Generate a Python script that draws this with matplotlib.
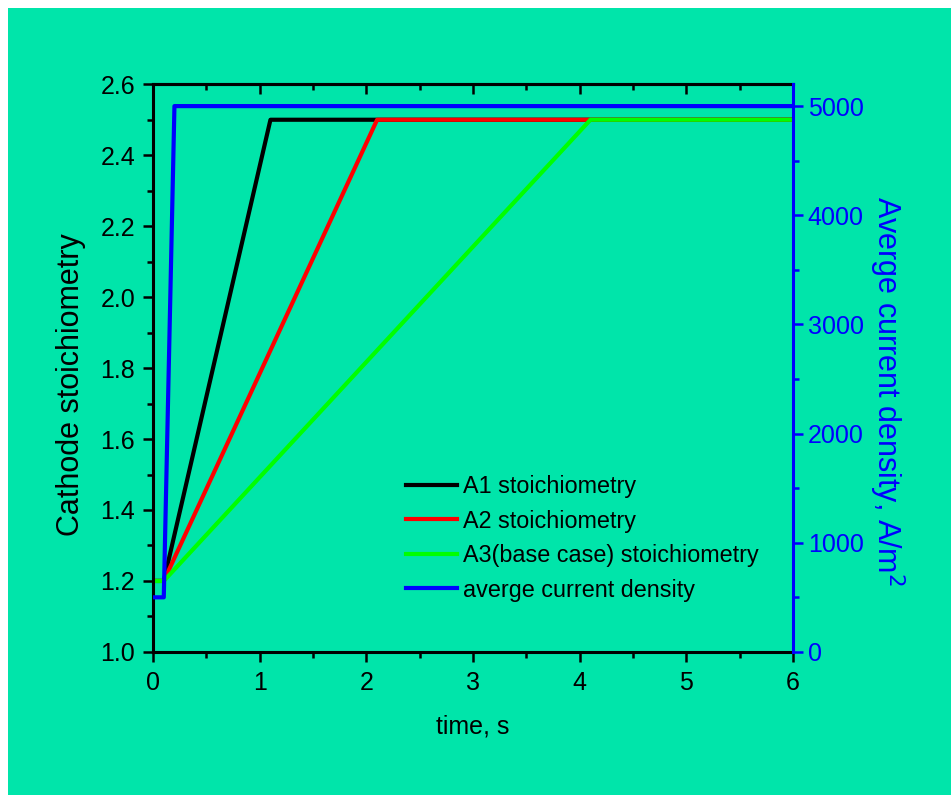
import matplotlib
matplotlib.use('Agg')
import matplotlib.pyplot as plt
from matplotlib.patches import Rectangle
from matplotlib.ticker import MultipleLocator, FormatStrFormatter

plt.rcParams['font.family'] = ['Liberation Sans', 'DejaVu Sans']

# stoichiometry ramps (time in s)
t_a1 = [0, 0.1, 1.1, 6]
s_a1 = [1.2, 1.2, 2.5, 2.5]
t_a2 = [0, 0.1, 2.1, 6]
s_a2 = [1.2, 1.2, 2.5, 2.5]
t_a3 = [0, 0.1, 4.1, 6]
s_a3 = [1.2, 1.2, 2.5, 2.5]
# average current density, A/m2
t_cd = [0, 0.1, 0.2, 6]
cd = [500, 500, 5000, 5000]

green = '#00E5AA'
fig = plt.figure(figsize=(9.51, 7.95), dpi=100, facecolor='white')
fig.add_artist(Rectangle((8 / 951, 0), 1, 1 - 8 / 795, transform=fig.transFigure,
                         facecolor=green, edgecolor='none', zorder=-10))

ax = fig.add_axes([0.161, 0.180, 0.673, 0.714])
ax.set_facecolor('none')
ax2 = ax.twinx()
ax2.set_facecolor('none')

ax.plot(t_a1, s_a1, color='black', lw=3, label='A1 stoichiometry')
ax.plot(t_a2, s_a2, color='#FF0000', lw=3, label='A2 stoichiometry')
ax.plot(t_a3, s_a3, color='#00FF00', lw=3, label='A3(base case) stoichiometry')
ax2.plot(t_cd, cd, color='#0000FF', lw=3, label='averge current density')

ax.set_xlim(0, 6)
ax.set_ylim(1.0, 2.6)
ax2.set_ylim(0, 5200)

ax.xaxis.set_major_locator(MultipleLocator(1))
ax.xaxis.set_minor_locator(MultipleLocator(0.5))
ax.yaxis.set_major_locator(MultipleLocator(0.2))
ax.yaxis.set_minor_locator(MultipleLocator(0.1))
ax2.yaxis.set_major_locator(MultipleLocator(1000))
ax2.yaxis.set_minor_locator(MultipleLocator(500))
ax.yaxis.set_major_formatter(FormatStrFormatter('%.1f'))

ax.tick_params(axis='both', which='both', top=False, right=False, direction='out',
               width=1.8, labelsize=18)
ax.tick_params(which='major', length=7)
ax.tick_params(which='minor', length=4)
ax.tick_params(axis='x', which='major', pad=7)
ax.tick_params(axis='y', which='major', pad=6)
ax2.tick_params(axis='y', which='both', direction='out', width=1.8,
                colors='#0000FF', labelsize=18)
ax2.tick_params(which='major', length=7)
ax2.tick_params(which='minor', length=4)

# top ticks point inward, no labels
top = ax.secondary_xaxis('top')
top.xaxis.set_major_locator(MultipleLocator(1))
top.xaxis.set_minor_locator(MultipleLocator(0.5))
top.tick_params(which='both', direction='in', width=1.8, labeltop=False)
top.tick_params(which='major', length=7)
top.tick_params(which='minor', length=4)
top.spines['top'].set_linewidth(2.2)

for sp in ['left', 'bottom', 'top']:
    ax.spines[sp].set_linewidth(2.2)
for sp in ['left', 'bottom', 'top']:
    ax2.spines[sp].set_visible(False)
ax2.spines['right'].set_color('#0000FF')
ax2.spines['right'].set_linewidth(2.2)
ax.spines['right'].set_visible(False)

ax.set_xlabel('time, s', fontsize=18, labelpad=14)
ax.set_ylabel('Cathode stoichiometry', fontsize=22, labelpad=10)
ax.yaxis.label.set_y(0.47)
ax2.set_ylabel('Averge current density, A/m$^2$', fontsize=22, color='#0000FF',
               rotation=270, labelpad=31)
ax2.yaxis.label.set_y(0.46)

h1, l1 = ax.get_legend_handles_labels()
h2, l2 = ax2.get_legend_handles_labels()
ax2.legend(h1 + h2, l1 + l2, loc='center left', bbox_to_anchor=(0.395, 0.2),
           frameon=False, fontsize=16.8, handlelength=2.2, handletextpad=0.25,
           labelspacing=0.49, borderpad=0, borderaxespad=0)

fig.savefig('out.png', dpi=100)
